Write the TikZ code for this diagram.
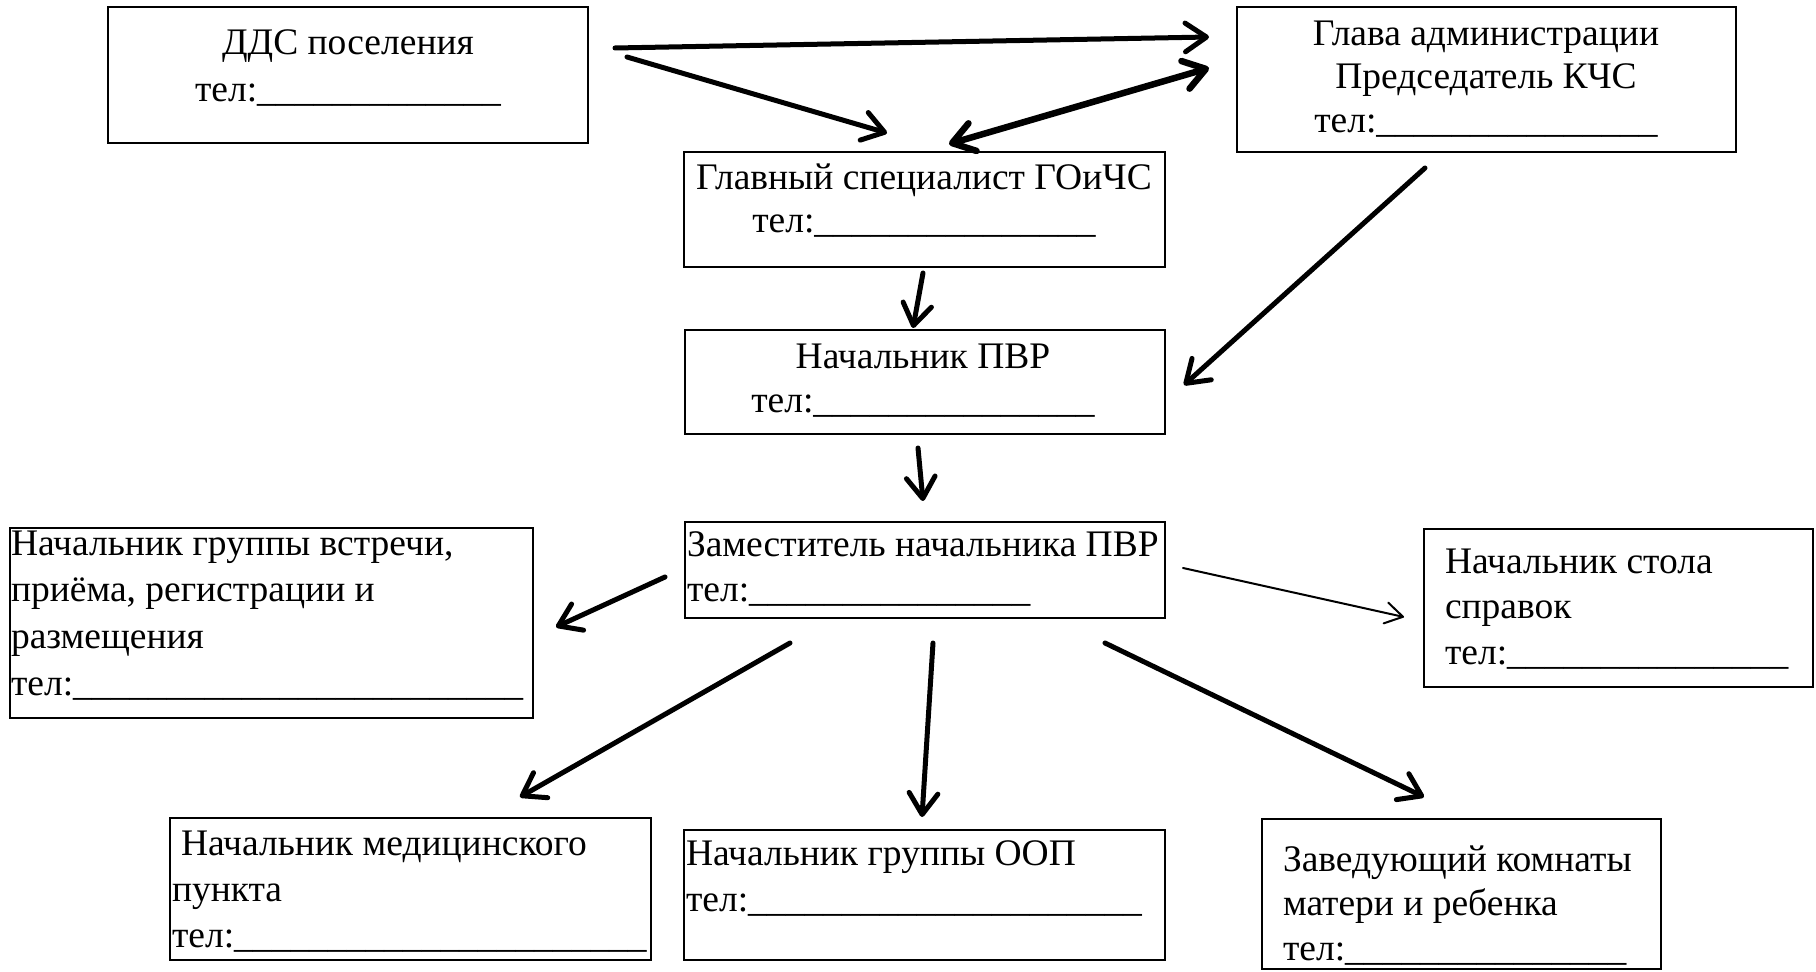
\documentclass[tikz,border=0pt]{standalone}
\usepackage{fontspec}
\setmainfont{Liberation Serif}
\usetikzlibrary{arrows.meta}
\ExplSyntaxOn
\NewDocumentCommand\telu{m}{тел:\prg_replicate:nn{#1}{\_}}
\ExplSyntaxOff
\tikzset{
  box/.style={draw, line width=0.8pt, inner sep=0pt, outer sep=0pt},
  tx/.style={inner sep=0pt, outer sep=0pt, font=\fontsize{15pt}{#1}\selectfont},
  arr/.style={line width=2pt, line cap=round, -{Straight Barb[length=8.5pt,width=11.5pt,round]}},
  darr/.style={line width=2.6pt, line cap=round, {Straight Barb[length=8.5pt,width=11.5pt,round]}-{Straight Barb[length=8.5pt,width=11.5pt,round]}},
  tarr/.style={line width=0.8pt, line cap=round, -{Straight Barb[length=7pt,width=8.5pt,round]}}
}
\begin{document}
\begin{tikzpicture}[x=0.4pt,y=-0.4pt]
\useasboundingbox (0,0) rectangle (1816,972);
% boxes
\node[box, minimum width=192pt, minimum height=54.4pt] (dds) at (348,75) {};
\node[box, minimum width=199.6pt, minimum height=58pt] (glava) at (1486.5,79.5) {};
\node[box, minimum width=192.4pt, minimum height=46pt] (spec) at (924.5,209.5) {};
\node[box, minimum width=192pt, minimum height=41.6pt] (pvr) at (925,382) {};
\node[box, minimum width=192pt, minimum height=38.4pt] (zam) at (925,570) {};
\node[box, minimum width=209.2pt, minimum height=76pt] (vstr) at (271.5,623) {};
\node[box, minimum width=155.6pt, minimum height=63.2pt] (sprav) at (1618.5,608) {};
\node[box, minimum width=192.4pt, minimum height=56.8pt] (med) at (410.5,889) {};
\node[box, minimum width=192.4pt, minimum height=52pt] (oop) at (924.5,895) {};
\node[box, minimum width=159.6pt, minimum height=60pt] (zav) at (1461.5,894) {};
% texts
\node[tx=18.8pt, align=center, anchor=north] (tdds) at (348,21.6) {\strut ДДС поселения\\\strut\telu{13}};
\node[tx=17.5pt, align=center, anchor=north] (tglava) at (1486,14.4) {\strut Глава администрации\\\strut Председатель КЧС\\\strut\telu{15}};
\node[tx=17pt, align=center, anchor=north] (tspec) at (924,160) {\strut Главный специалист ГОиЧС\\\strut\telu{15}};
\node[tx=17.5pt, align=center, anchor=north] (tpvr) at (923,338) {\strut Начальник ПВР\\\strut\telu{15}};
\node[tx=18pt, align=left, anchor=north west] (tzam) at (687,525.5) {\strut Заместитель начальника ПВР\\\strut\telu{15}};
\node[tx=18.7pt, align=left, anchor=north west] (tvstr) at (11,522.3) {\strut Начальник группы встречи,\\\strut приёма, регистрации и\\\strut размещения\\\strut\telu{24}};
\node[tx=18.3pt, align=left, anchor=north west] (tsprav) at (1445,541) {\strut Начальник стола\\\strut справок\\\strut\telu{15}};
\node[tx=18.4pt, align=left, anchor=north west] (tmed) at (172,822.8) {\strut\hspace{3.6pt}Начальник медицинского\\\strut пункта\\\strut\telu{22}};
\node[tx=18.2pt, align=left, anchor=north west] (toop) at (686,834) {\strut Начальник группы ООП\\\strut\telu{21}};
\node[tx=17.8pt, align=left, anchor=north west] (tzav) at (1283,840) {\strut Заведующий комнаты\\\strut матери и ребенка\\\strut\telu{15}};
% arrow end points
\coordinate (a1s) at (615,48);   \coordinate (a1e) at (1209,37);
\coordinate (a2s) at (627,57);   \coordinate (a2e) at (887,133);
\coordinate (a3s) at (949,144);  \coordinate (a3e) at (1209,68);
\coordinate (a4s) at (923,273);  \coordinate (a4e) at (913,328);
\coordinate (a5s) at (1425,168); \coordinate (a5e) at (1184,385);
\coordinate (a6s) at (918,448);  \coordinate (a6e) at (923,501);
\coordinate (a7s) at (665,577);  \coordinate (a7e) at (556,627);
\coordinate (a8s) at (1183,568); \coordinate (a8e) at (1404,617);
\coordinate (a9s) at (790,643);  \coordinate (a9e) at (520,797);
\coordinate (a10s) at (933,643); \coordinate (a10e) at (922,817);
\coordinate (a11s) at (1105,643);\coordinate (a11e) at (1424,797);
% arrows
\draw[arr] (a1s) -- (a1e);
\draw[arr] (a2s) -- (a2e);
\draw[darr] (a3s) -- (a3e);
\draw[arr] (a4s) -- (a4e);
\draw[arr] (a5s) -- (a5e);
\draw[arr] (a6s) -- (a6e);
\draw[arr] (a7s) -- (a7e);
\draw[tarr] (a8s) -- (a8e);
\draw[arr] (a9s) -- (a9e);
\draw[arr] (a10s) -- (a10e);
\draw[arr] (a11s) -- (a11e);
\end{tikzpicture}
\end{document}
